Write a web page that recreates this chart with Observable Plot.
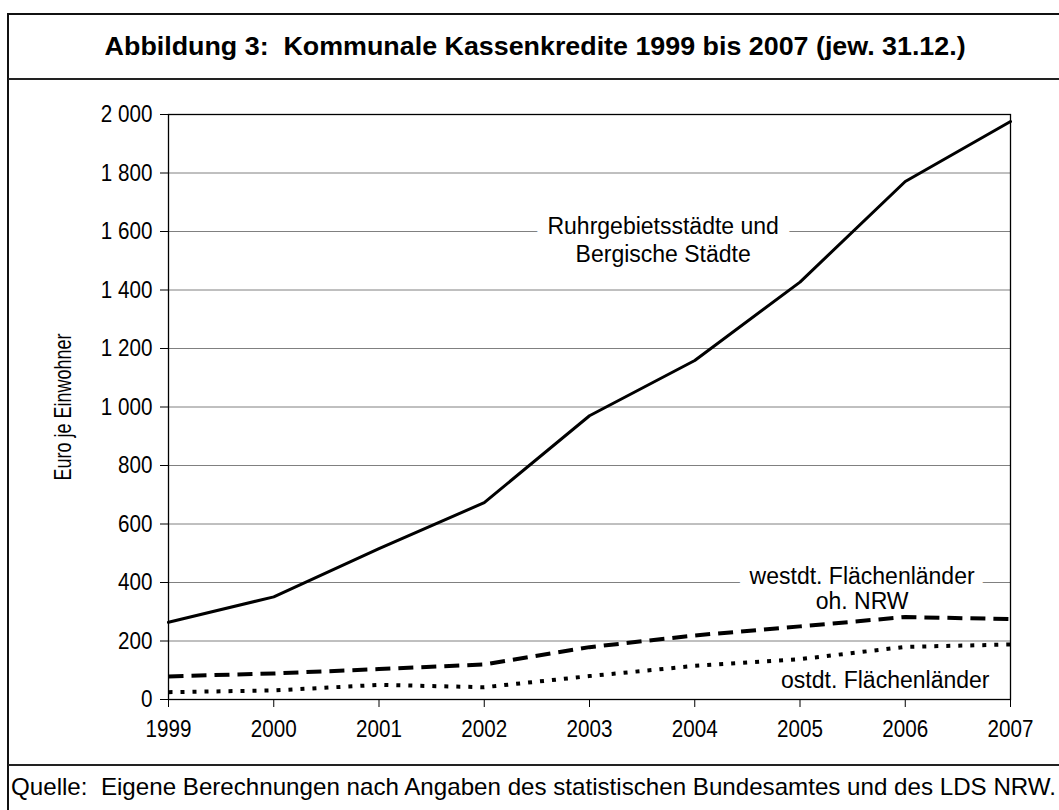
<!DOCTYPE html>
<html><head><meta charset="utf-8">
<script src="https://cdn.jsdelivr.net/npm/d3@7"></script>
<script src="https://cdn.jsdelivr.net/npm/@observablehq/plot@0.6"></script>
<style>
html,body{margin:0;padding:0;background:#fff;overflow:hidden;width:1059px;height:810px;}
#root{position:relative;width:1059px;height:810px;font-family:"Liberation Sans",Arial,sans-serif;color:#000;}
.outer{position:absolute;left:7px;top:13px;width:1100px;height:900px;border:2px solid #111;box-sizing:border-box;}
.hline{position:absolute;left:8px;width:1060px;height:2px;background:#222;}
#title{position:absolute;left:0;width:1071px;top:33px;text-align:center;font-weight:bold;font-size:26px;line-height:26px;white-space:nowrap;}
#title span,#foot span{display:inline-block;}
#foot{position:absolute;left:11px;top:775px;font-size:24px;line-height:24px;white-space:nowrap;}
#chart{position:absolute;left:10px;top:81px;}
</style></head>
<body><div id="root">
<div class="outer"></div>
<div class="hline" style="top:78px"></div>
<div class="hline" style="top:764px"></div>
<div id="title"><span>Abbildung 3:&nbsp; Kommunale Kassenkredite 1999 bis 2007 (jew. 31.12.)</span></div>
<div id="foot"><span>Quelle:&nbsp; Eigene Berechnungen nach Angaben des statistischen Bundesamtes und des LDS NRW.</span></div>
<div id="chart"></div>
</div>
<script>
const years = [1999, 2000, 2001, 2002, 2003, 2004, 2005, 2006, 2007];
const ruhr = [264, 351, 516, 673, 970, 1159, 1427, 1771, 1976];
const west = [79, 89, 104, 120, 179, 219, 250, 282, 275];
const ost = [25, 31, 50, 42, 80, 115, 138, 180, 188];
const yTicks = [0, 200, 400, 600, 800, 1000, 1200, 1400, 1600, 1800, 2000];
const yLabel = "Euro je Einwohner";
const lineLabels = [
  {text: "Ruhrgebietsstädte und", x: 2003.70, y: 1615, halo: true},
  {text: "Bergische Städte", x: 2003.70, y: 1521, halo: false},
  {text: "westdt. Flächenländer", x: 2005.59, y: 420, halo: true},
  {text: "oh. NRW", x: 2005.59, y: 336, halo: false},
  {text: "ostdt. Flächenländer", x: 2005.81, y: 66, halo: false}
];

const rows = [];
years.forEach((yr, i) => {
  rows.push({year: yr, value: ruhr[i], s: "ruhr"});
  rows.push({year: yr, value: west[i], s: "west"});
  rows.push({year: yr, value: ost[i], s: "ost"});
});
const fmt = d => d3.format(",")(d).replace(/,/g, "\u00a0");
const FONT = "'Liberation Sans', Arial, sans-serif";

const plot = Plot.plot({
  width: 1049, height: 683,
  marginLeft: 158, marginRight: 49, marginTop: 33, marginBottom: 65,
  style: {fontFamily: FONT, fontSize: "24px", color: "#000", background: "transparent", overflow: "visible"},
  x: {domain: [1999, 2007], label: null},
  y: {domain: [0, 2000], label: null},
  marks: [
    Plot.ruleY(yTicks.filter(d => d > 0 && d < 2000), {stroke: "#808080", strokeWidth: 1}),
    Plot.frame({stroke: "#000", strokeWidth: 1.3}),
    Plot.axisY({ticks: yTicks, tickSize: 8, tickPadding: 8, tickFormat: fmt, fontSize: 24, label: null, stroke: "#000"}),
    Plot.axisX({ticks: years, tickSize: 8, tickPadding: 12, tickFormat: d => String(d), fontSize: 24, label: null, stroke: "#000"}),
    Plot.text([yLabel], {frameAnchor: "left", textAnchor: "middle", dx: -105, rotate: -90, text: d => d, fontSize: 24, fill: "#000", className: "ylab"}),
    Plot.line(rows.filter(d => d.s === "ost"), {x: "year", y: "value", stroke: "#000", strokeWidth: 4, strokeDasharray: "4,8", strokeLinecap: "butt"}),
    Plot.line(rows.filter(d => d.s === "west"), {x: "year", y: "value", stroke: "#000", strokeWidth: 4, strokeDasharray: "15,8", strokeLinecap: "butt"}),
    Plot.line(rows.filter(d => d.s === "ruhr"), {x: "year", y: "value", stroke: "#000", strokeWidth: 3}),
    Plot.text(lineLabels.filter(d => d.halo), {x: "x", y: "y", text: "text", fontSize: 23, fill: "#000", stroke: "white", strokeWidth: 24, paintOrder: "stroke"}),
    Plot.text(lineLabels.filter(d => !d.halo), {x: "x", y: "y", text: "text", fontSize: 23, fill: "#000"})
  ]
});
document.getElementById("chart").appendChild(plot);

// narrow the glyphs horizontally around each text's own anchor
function squeeze(selector, sx) {
  plot.querySelectorAll(selector).forEach(t => {
    const tr = t.getAttribute("transform");
    if (tr) {
      t.setAttribute("transform", tr + ` scale(${sx},1)`);
    } else {
      const x = parseFloat(t.getAttribute("x")) || 0;
      t.removeAttribute("x");
      t.setAttribute("transform", `translate(${x},0) scale(${sx},1)`);
    }
  });
}
squeeze('g[aria-label="y-axis tick label"] text', 0.86);
squeeze('g[aria-label="x-axis tick label"] text', 0.86);
squeeze('.ylab text', 0.75);

function fit(sel, target, origin) {
  const s = document.querySelector(sel);
  const w = s.getBoundingClientRect().width;
  s.style.transformOrigin = origin;
  s.style.transform = `scaleX(${target / w})`;
}
fit("#title span", 861, "center");
fit("#foot span", 1045, "left");
</script>
</body></html>
